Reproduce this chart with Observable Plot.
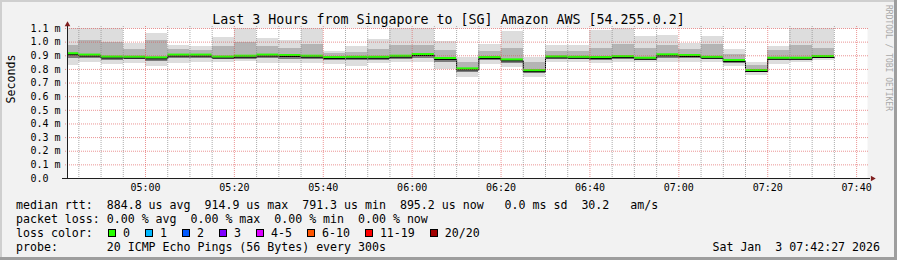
<!DOCTYPE html>
<html><head><meta charset="utf-8">
<script src="https://cdn.jsdelivr.net/npm/d3@7"></script>
<script src="https://cdn.jsdelivr.net/npm/@observablehq/plot@0.6"></script>
<style>
body{margin:0;background:#f2f2f2;}
#wrap{position:relative;width:897px;height:260px;background:#f2f2f2;overflow:hidden;font-family:"DejaVu Sans Mono",monospace;color:#000;}
.abs{position:absolute;white-space:pre;}
#plot{position:absolute;left:0;top:0;}
.leg{left:16px;font-size:11.6px;line-height:14px;}
.sq{display:inline-block;width:8px;height:8px;box-sizing:border-box;border:1px solid #000;vertical-align:baseline;}
</style></head><body><div id="wrap"></div>
<script>
// ---- data ----
const binStarts = ["04:40","04:45","04:50","04:55","05:00","05:05","05:10","05:15","05:20","05:25","05:30","05:35","05:40","05:45","05:50","05:55","06:00","06:05","06:10","06:15","06:20","06:25","06:30","06:35","06:40","06:45","06:50","06:55","07:00","07:05","07:10","07:15","07:20","07:25","07:30"];
const medianMs = [0.915,0.905,0.891,0.890,0.885,0.905,0.905,0.891,0.897,0.905,0.902,0.897,0.887,0.889,0.889,0.897,0.909,0.880,0.804,0.887,0.870,0.791,0.892,0.889,0.887,0.894,0.882,0.907,0.902,0.889,0.865,0.792,0.882,0.882,0.895];
const maxMs = [1.100,1.100,1.100,0.990,1.063,0.975,0.968,1.036,1.100,1.026,1.012,1.100,0.931,0.968,1.019,1.100,1.100,1.004,0.887,0.982,1.078,0.887,0.975,0.975,1.085,1.100,1.043,1.048,0.990,1.041,0.946,0.853,0.968,1.100,1.100];
const hiMs = [0.975,1.012,0.997,0.946,1.012,0.946,0.938,0.968,0.997,0.968,0.953,0.982,0.916,0.924,0.946,0.975,0.975,0.938,0.850,0.931,0.953,0.850,0.931,0.931,0.953,0.982,0.953,0.975,0.946,0.982,0.909,0.829,0.938,0.975,0.953];
const loMs = [0.880,0.880,0.865,0.872,0.858,0.880,0.880,0.872,0.872,0.880,0.872,0.872,0.865,0.865,0.865,0.872,0.880,0.850,0.777,0.865,0.843,0.770,0.872,0.872,0.865,0.872,0.865,0.880,0.880,0.872,0.843,0.777,0.865,0.865,0.880];
const minMs = [0.828,0.850,0.836,0.843,0.821,0.843,0.850,0.850,0.858,0.843,0.843,0.843,0.836,0.821,0.843,0.850,0.850,0.799,0.740,0.836,0.814,0.740,0.850,0.850,0.843,0.850,0.850,0.850,0.850,0.850,0.821,0.755,0.836,0.850,0.865];
const timeDomain = ["04:42:27","07:42:27"];
const yTicks = [0,0.1,0.2,0.3,0.4,0.5,0.6,0.7,0.8,0.9,1.0,1.1];
const yTickLabels = ["0.0","0.1 m","0.2 m","0.3 m","0.4 m","0.5 m","0.6 m","0.7 m","0.8 m","0.9 m","1.0 m","1.1 m"];
const xMajorTicks = ["05:00","05:20","05:40","06:00","06:20","06:40","07:00","07:20","07:40"];
const titleText = "Last 3 Hours from Singapore to [SG] Amazon AWS [54.255.0.2]";
const yLabel = "Seconds";
const statLine1 = "median rtt:  884.8 us avg  914.9 us max  791.3 us min  895.2 us now   0.0 ms sd  30.2   am/s";
const statLine2 = "packet loss: 0.00 % avg  0.00 % max  0.00 % min  0.00 % now";
const lossTitle = "loss color:";
const lossLabels = ["0","1","2","3","4-5","6-10","11-19","20/20"];
const lossColors = ["#26ff00","#00b8ff","#0059ff","#7e00ff","#dd00ff","#ff5500","#ff0000","#a10000"];
const probeLine = "probe:       20 ICMP Echo Pings (56 Bytes) every 300s";
const dateText = "Sat Jan  3 07:42:27 2026";
const sideText = "RRDTOOL / TOBI OETIKER";

// ---- build ----
const T = s => { const [h,m,sec=0] = s.split(":").map(Number); return new Date(Date.UTC(2026,0,3,h,m,sec)); };
const STEP = 300000;
const bins = binStarts.map((s,i) => ({start:T(s), end:new Date(T(s).getTime()+STEP), med:medianMs[i], max:maxMs[i], hi:hiMs[i], lo:loMs[i], min:minMs[i]}));
const steps = bins.map(b => ({t:b.start, v:b.med})).concat([{t:bins[bins.length-1].end, v:bins[bins.length-1].med}]);
const t0 = T(timeDomain[0]), t1 = T(timeDomain[1]);
const majorTimes = xMajorTicks.map(T);
const minorTimes = d3.utcMinute.every(5).range(t0, t1).filter(d => d.getUTCMinutes() % 20 !== 0);
const axisCol = "rgb(31,31,31)", arrowCol = "rgb(128,31,31)";
const majorCol = "rgba(222,79,79,0.6)", minorCol = "rgba(143,143,143,0.75)";

const chart = Plot.plot({
  width: 897, height: 197,
  marginLeft: 67, marginRight: 30, marginTop: 28, marginBottom: 19,
  x: {type: "utc", domain: [t0, t1], axis: null},
  y: {domain: [0, 1.1], axis: null},
  style: {background: "transparent", fontFamily: "DejaVu Sans Mono", fontSize: "10px", color: "#000", overflow: "visible"},
  marks: [
    Plot.frame({fill: "#ffffff", stroke: "none"}),
    Plot.rectY(bins, {x1: "start", x2: "end", y1: "min", y2: "max", fill: "#dddddd", clip: true, shapeRendering: "crispEdges"}),
    Plot.rectY(bins, {x1: "start", x2: "end", y1: "lo", y2: "hi", fill: "#b4b4b4", clip: true, shapeRendering: "crispEdges"}),
    Plot.rectY(bins, {x1: "start", x2: "end", y1: "lo", y2: "med", fill: "#7c7c7c", clip: true, shapeRendering: "crispEdges"}),
    Plot.line(steps, {x: "t", y: "v", curve: "step-after", stroke: "#000", strokeWidth: 1, dy: 1, clip: true}),
    Plot.ruleY(bins, {x1: "start", x2: "end", y: "med", stroke: "#26ff00", strokeWidth: 2, dy: -0.5, clip: true}),
    Plot.ruleX(minorTimes, {stroke: minorCol, strokeDasharray: "1,1", insetTop: -2, insetBottom: -2}),
    Plot.ruleX(majorTimes, {stroke: majorCol, strokeDasharray: "1,1", insetTop: -2, insetBottom: -2}),
    Plot.ruleY(yTicks.slice(1), {stroke: majorCol, strokeDasharray: "1,1", insetLeft: -2, insetRight: -2}),
    Plot.ruleX([t0], {stroke: axisCol, insetTop: -2}),
    Plot.ruleY([0], {stroke: axisCol, insetLeft: -5, insetRight: -3}),
    Plot.dot([t0], {x: d => d, frameAnchor: "top", symbol: "triangle", r: 2.1, fill: arrowCol, stroke: "none", dy: -4}),
    Plot.dot([t1], {x: d => d, frameAnchor: "bottom", symbol: "triangle", r: 2.1, fill: arrowCol, stroke: "none", rotate: 90, dx: 5}),
    Plot.text(yTicks, {y: d => d, text: (d, i) => yTickLabels[i], frameAnchor: "left", textAnchor: "start", dx: -37, fontSize: 10}),
    Plot.text(majorTimes, {x: d => d, text: (d, i) => xMajorTicks[i], frameAnchor: "bottom", lineAnchor: "top", dy: 5, fontSize: 10}),
    Plot.text([yLabel], {text: d => d, frameAnchor: "left", rotate: -90, dx: -56, fontSize: 11.6})
  ]
});
chart.id = "plot";
const wrap = document.getElementById("wrap");
wrap.appendChild(chart);

function div(cls, style, text) {
  const d = document.createElement("div");
  d.className = "abs " + cls;
  Object.assign(d.style, style);
  if (text != null) d.textContent = text;
  wrap.appendChild(d);
  return d;
}
div("", {left: "0px", top: "13px", width: "897px", textAlign: "center", fontSize: "13.3px", lineHeight: "13.3px"}, titleText);
div("leg", {top: "197.5px"}, statLine1);
div("leg", {top: "211.5px"}, statLine2);
const l3 = div("leg", {top: "225.5px"});
l3.appendChild(document.createTextNode(lossTitle));
lossLabels.forEach((lab, i) => {
  const sq = document.createElement("span");
  sq.className = "sq";
  sq.style.background = lossColors[i];
  sq.style.marginLeft = i === 0 ? "15.3px" : "15px";
  l3.appendChild(sq);
  const t = document.createElement("span");
  t.textContent = lab;
  t.style.marginLeft = "7px";
  l3.appendChild(t);
});
div("leg", {top: "239.5px"}, probeLine);
div("leg", {top: "239.5px", left: "auto", right: "17px"}, dateText);
div("", {left: "883px", top: "5px", fontSize: "8px", lineHeight: "10px", color: "#a8a8a8", writingMode: "vertical-rl"}, sideText);
// frame shading
div("", {left: "0px", top: "0px", width: "897px", height: "2px", background: "#cfcfcf"});
div("", {left: "0px", top: "0px", width: "2px", height: "260px", background: "#cfcfcf"});
div("", {left: "0px", top: "257px", width: "897px", height: "3px", background: "#9e9e9e"});
div("", {left: "894px", top: "0px", width: "3px", height: "260px", background: "#9e9e9e"});
</script></body></html>
